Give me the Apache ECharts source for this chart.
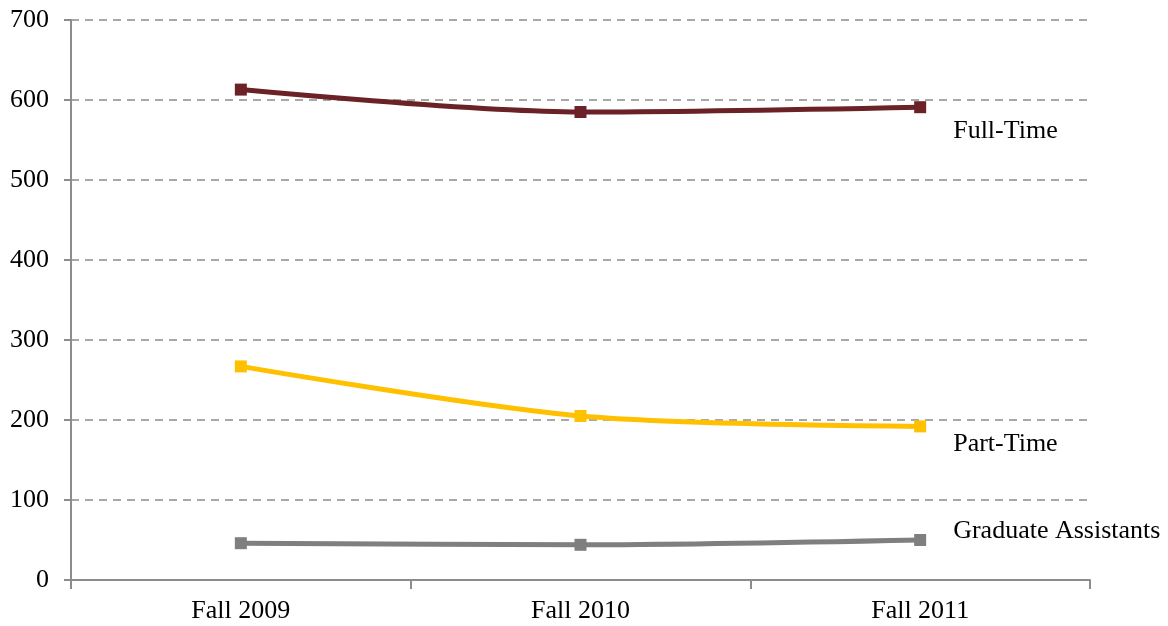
<!DOCTYPE html>
<html>
<head>
<meta charset="utf-8">
<script src="https://cdn.jsdelivr.net/npm/echarts@6/dist/echarts.min.js"></script>
<style>
  html, body { margin: 0; padding: 0; background: #fff; }
  #chart { width: 1168px; height: 626px; }
</style>
</head>
<body>
<div id="chart"></div>
<script>
// 数据
const terms = ['Fall 2009', 'Fall 2010', 'Fall 2011']
const fullTime = [613, 585, 591]
const partTime = [267, 205, 192]
const gradAssistants = [46, 44, 50]

const FONT = '"Liberation Serif", "Times New Roman", serif'
const AXIS_COLOR = '#8c8c8c'

function lineSeries(name, data, color, offset) {
  return {
    name,
    type: 'line',
    data,
    smooth: 0.3,
    symbol: 'rect',
    symbolSize: 12,
    lineStyle: { color, width: 5 },
    itemStyle: { color },
    endLabel: {
      show: true,
      formatter: name,
      offset,
      color: '#000',
      fontFamily: FONT,
      fontSize: 26
    }
  }
}

const chart = echarts.init(document.getElementById('chart'))
chart.setOption({
  animation: false,
  grid: { left: 71, right: 78, top: 20, bottom: 46 },
  xAxis: {
    type: 'category',
    data: terms,
    boundaryGap: true,
    axisLine: { lineStyle: { color: AXIS_COLOR, width: 2 } },
    axisTick: { show: true, length: 9, lineStyle: { color: AXIS_COLOR, width: 2 } },
    axisLabel: { color: '#000', fontFamily: FONT, fontSize: 26, margin: 18 },
    splitLine: { show: false }
  },
  yAxis: {
    type: 'value',
    min: 0,
    max: 700,
    interval: 100,
    axisLine: { show: true, lineStyle: { color: AXIS_COLOR, width: 2 } },
    axisTick: { show: true, length: 7, lineStyle: { color: AXIS_COLOR, width: 2 } },
    axisLabel: { color: '#000', fontFamily: FONT, fontSize: 26, margin: 22 },
    splitLine: { lineStyle: { color: AXIS_COLOR, type: [8, 6], width: 1.5 } }
  },
  series: [
    lineSeries('Full-Time', fullTime, '#6B2226', [25, 24]),
    lineSeries('Part-Time', partTime, '#FFC000', [25, 18]),
    lineSeries('Graduate Assistants', gradAssistants, '#7F7F7F', [25, -9])
  ]
})
</script>
</body>
</html>
